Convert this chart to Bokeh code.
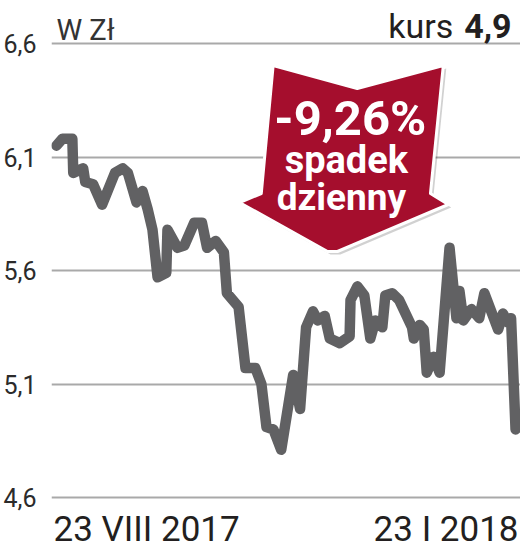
from bokeh.plotting import figure
from bokeh.models import FixedTicker, Range1d
from bokeh.core.properties import value
from bokeh.embed import file_html
from bokeh.resources import INLINE

# ---- data ----
days = [0.0, 2.0, 5.3, 5.6, 8.9, 9.6, 12.2, 15.2, 19.5, 22.1, 23.8, 26.7, 28.7, 30.4,
        32.0, 33.7, 36.6, 37.0, 40.3, 42.6, 45.9, 48.5, 50.2, 53.1, 55.8, 56.8, 60.7,
        63.0, 66.3, 68.3, 70.0, 72.3, 74.9, 78.9, 81.2, 83.2, 85.5, 87.1, 89.4, 91.1,
        94.4, 97.7, 98.0, 100.3, 102.6, 104.6, 106.3, 108.6, 109.6, 111.9, 114.2,
        118.5, 119.1, 121.1, 122.4, 123.4, 125.7, 127.7, 131.0, 133.3, 134.3, 135.6,
        138.3, 140.9, 142.6, 147.2, 148.8, 150.5, 151.5, 153.0]
prices = [6.15, 6.18, 6.18, 6.03, 6.05, 5.99, 5.98, 5.89, 6.03, 6.05, 6.03, 5.90, 5.95, 5.87,
          5.78, 5.57, 5.59, 5.78, 5.70, 5.71, 5.81, 5.81, 5.70, 5.73, 5.68, 5.50, 5.44,
          5.17, 5.17, 5.10, 4.91, 4.90, 4.81, 5.14, 4.99, 5.35, 5.42, 5.38, 5.40, 5.30,
          5.28, 5.31, 5.47, 5.53, 5.49, 5.30, 5.38, 5.35, 5.49, 5.50, 5.47,
          5.35, 5.30, 5.36, 5.34, 5.15, 5.22, 5.15, 5.70, 5.39, 5.51, 5.38,
          5.43, 5.39, 5.50, 5.34, 5.41, 5.37, 5.39, 4.90]
y_ticks = [4.6, 5.1, 5.6, 6.1, 6.6]
y_tick_labels = ["4,6", "5,1", "5,6", "6,1", "6,6"]
date_labels = ["23 VIII 2017", "23 I 2018"]
date_days = [0.0, 153.0]
unit_label = "W Zł"
kurs_label = "kurs"
kurs_value = "4,9"
badge_lines = ["-9,26%", "spadek", "dzienny"]

# ---- layout helpers (canvas pixel -> data) ----
W, H = 520, 549
FRAME_L, FRAME_R, FRAME_T, FRAME_B = 46, W, 0, H
PX_PER_DAY = (515 - 51) / 153.0
X0 = -(51 - FRAME_L) / PX_PER_DAY
X1 = X0 + (FRAME_R - FRAME_L) / PX_PER_DAY
PX_PER_UNIT = 227.0
Y1 = 6.6 + (43 - FRAME_T) / PX_PER_UNIT
Y0 = 6.6 - (FRAME_B - 43) / PX_PER_UNIT
BASE_SHIFT = 0.27  # measured offset of the rendered baseline, in em


def X(px):
    return X0 + (px - FRAME_L) / PX_PER_DAY


def Y(py):
    return 6.6 - (py - 43) / PX_PER_UNIT


def YT(py, fs):
    # baseline position corrected for the renderer's offset
    return Y(py - BASE_SHIFT * fs)


p = figure(width=W, height=H, output_backend="svg", toolbar_location=None,
           x_axis_location=None, x_range=Range1d(X0, X1), y_range=Range1d(Y0, Y1),
           min_border_left=FRAME_L, min_border_right=0, min_border_top=0,
           min_border_bottom=0)
p.outline_line_color = None
p.background_fill_color = "white"
p.border_fill_color = "white"
p.xgrid.visible = False

ax = p.yaxis[0]
ax.ticker = FixedTicker(ticks=y_ticks)
ax.major_label_overrides = {t: l for t, l in zip(y_ticks, y_tick_labels)}
ax.axis_line_color = None
ax.major_tick_line_color = None
ax.minor_tick_line_color = None
ax.major_label_standoff = 9
ax.major_label_text_font = "Roboto"
ax.major_label_text_font_size = "25px"
ax.major_label_text_color = "#2b2b2b"

p.ygrid.ticker = FixedTicker(ticks=y_ticks)
p.ygrid.grid_line_color = "#a9a9a9"
p.ygrid.grid_line_width = 2

# price line
p.line(days, prices, line_color="#616163", line_width=10.5,
       line_join="round", line_cap="round")

# arrow badge
arrow_px = [(270, 65), (355, 88), (442, 65), (429, 193), (447, 204),
            (335, 251), (325, 251), (236, 202), (258, 193)]
ax_ = [X(a) for a, b in arrow_px]
ay_ = [Y(b) for a, b in arrow_px]
p.patch([X(a + 3) for a, b in arrow_px], [Y(b + 3) for a, b in arrow_px],
        fill_color="#000000", fill_alpha=0.18, line_color=None)
p.patch(ax_, ay_, fill_color="#a50e2d", line_color="white", line_width=3,
        line_join="round")

p.text([X(348)], [YT(131, 49)], text=[badge_lines[0]], text_font=value("Roboto"),
       text_font_style="bold", text_font_size="49px", text_color="white",
       text_align="center", text_baseline="alphabetic")
p.text([X(344)], [YT(170, 38)], text=[badge_lines[1]], text_font=value("Roboto"),
       text_font_style="bold", text_font_size="38px", text_color="white",
       text_align="center", text_baseline="alphabetic")
p.text([X(339)], [YT(207, 37)], text=[badge_lines[2]], text_font=value("Roboto"),
       text_font_style="bold", text_font_size="37px", text_color="white",
       text_align="center", text_baseline="alphabetic")

# header texts
p.text([X(51)], [YT(37, 29)], text=[unit_label], text_font=value("Roboto"),
       text_font_size="29px", text_color="#333333",
       text_align="left", text_baseline="alphabetic")
p.text([X(511)], [YT(35, 34)], text=[kurs_value], text_font=value("Roboto"),
       text_font_style="bold", text_font_size="34px", text_color="#231f20",
       text_align="right", text_baseline="alphabetic")
p.text([X(452)], [YT(35, 34)], text=[kurs_label], text_font=value("Roboto"),
       text_font_size="34px", text_color="#231f20",
       text_align="right", text_baseline="alphabetic")

# date labels
p.text([date_days[0] - (51 - 48) / PX_PER_DAY], [YT(538, 35)], text=[date_labels[0]],
       text_font=value("Roboto"), text_font_size="35px", text_color="#231f20",
       text_align="left", text_baseline="alphabetic")
p.text([date_days[1] + (518 - 515) / PX_PER_DAY], [YT(538, 35)], text=[date_labels[1]],
       text_font=value("Roboto"), text_font_size="35px", text_color="#231f20",
       text_align="right", text_baseline="alphabetic")

open("out.html", "w").write(file_html(p, INLINE))
